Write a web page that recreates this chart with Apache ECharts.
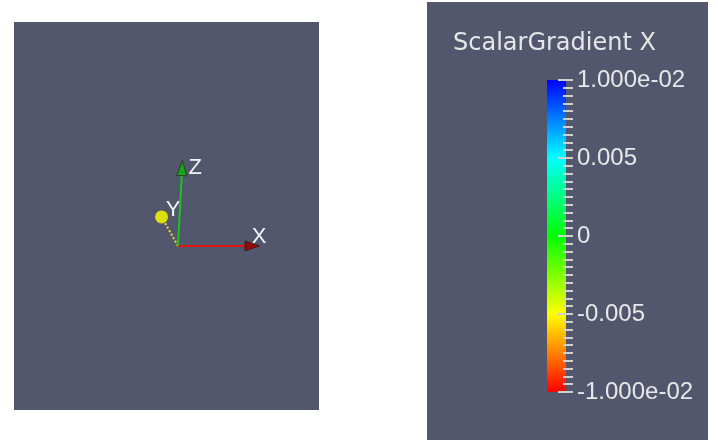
<!DOCTYPE html>
<html>
<head>
<meta charset="utf-8">
<script src="https://cdn.jsdelivr.net/npm/echarts@6/dist/echarts.min.js"></script>
<style>
  html, body { margin: 0; padding: 0; background: #ffffff; }
  #chart { width: 718px; height: 440px; }
</style>
</head>
<body>
<div id="chart"></div>
<script>
// colour legend
var legendTitle = 'ScalarGradient X';
var valueRange = [-0.01, 0.01];
var tickValues = [-0.01, -0.005, 0, 0.005, 0.01];
var tickLabels = ['-1.000e-02', '-0.005', '0', '0.005', '1.000e-02'];
var colorValues = [-0.01, -0.005, 0, 0.005, 0.01];
var colorList = ['#ff0000', '#ffff00', '#00ff00', '#00ffff', '#0000ff'];

// orientation triad (unit = length of the X arrow)
var triadNames = ['X', 'Y', 'Z'];
var triadTipX = [1.0, -0.2, 0.055];
var triadTipY = [0, 0.354, 1.04];
var triadLabelX = [0.99, -0.06, 0.21];
var triadLabelY = [0.11, 0.44, 0.95];

var bg = '#52576e';
var lineColors = ['#e01515', '#e2e21a', '#1ec41e'];
var headColors = ['#8e0d0d', '#dede0a', '#14a814'];

var chart = echarts.init(document.getElementById('chart'));

function gradientStops() {
	var span = valueRange[1] - valueRange[0];
	var stops = [];
	for (var i = colorValues.length - 1; i >= 0; i--) {
		stops.push({ offset: (valueRange[1] - colorValues[i]) / span, color: colorList[i] });
	}
	return stops;
}

// bar sits 26px left of the axis line
function renderBar(params, api) {
	var top = api.coord([0, api.value(2)]);
	var bottom = api.coord([0, api.value(1)]);
	return {
		type: 'rect',
		shape: { x: params.coordSys.x - 26, y: top[1], width: 19, height: bottom[1] - top[1] },
		style: { fill: new echarts.graphic.LinearGradient(0, 0, 0, 1, gradientStops()) }
	};
}

function renderTriad(params, api) {
	var i = api.value(4);
	var p0 = api.coord([0, 0]);
	var p1 = api.coord([api.value(0), api.value(1)]);
	var lp = api.coord([api.value(2), api.value(3)]);
	var dx = p1[0] - p0[0], dy = p1[1] - p0[1];
	var len = Math.sqrt(dx * dx + dy * dy);
	var ux = dx / len, uy = dy / len;
	var children = [];
	if (triadNames[i] === 'Y') {
		children.push({
			type: 'line',
			shape: { x1: p0[0], y1: p0[1], x2: p1[0], y2: p1[1] },
			style: { stroke: lineColors[i], lineWidth: 2, lineDash: [2, 2] }
		});
		children.push({
			type: 'circle',
			shape: { cx: p1[0], cy: p1[1], r: 6.5 },
			style: { fill: headColors[i] }
		});
	} else {
		var hl = 15, hw = 5;
		var bx = p1[0] - ux * hl, by = p1[1] - uy * hl;
		children.push({
			type: 'line',
			shape: { x1: p0[0], y1: p0[1], x2: bx, y2: by },
			style: { stroke: lineColors[i], lineWidth: 2 }
		});
		children.push({
			type: 'polygon',
			shape: { points: [[p1[0], p1[1]], [bx - uy * hw, by + ux * hw], [bx + uy * hw, by - ux * hw]] },
			style: { fill: headColors[i], stroke: '#2a1010', lineWidth: 0.6 }
		});
	}
	children.push({
		type: 'text',
		style: {
			x: lp[0], y: lp[1], text: triadNames[i],
			fill: '#f4f4f4', font: '22px "Liberation Sans"',
			align: 'center', verticalAlign: 'middle'
		}
	});
	return { type: 'group', children: children };
}

var triadData = triadNames.map(function (n, i) {
	return [triadTipX[i], triadTipY[i], triadLabelX[i], triadLabelY[i], i];
});

var option = {
	animation: false,
	backgroundColor: '#ffffff',
	title: {
		text: legendTitle,
		left: 448,
		top: 27,
		textStyle: { fontFamily: 'DejaVu Sans', fontSize: 24, fontWeight: 'normal', color: '#e6e6e6' }
	},
	graphic: {
		elements: [{
			type: 'rect', z: -10,
			shape: { x: 427, y: 2, width: 281, height: 438 },
			style: { fill: bg }
		}]
	},
	grid: [{
		left: 14, top: 22, width: 305, height: 388,
		show: true, backgroundColor: bg, borderWidth: 0
	}, {
		left: 573, top: 80, width: 10, height: 312
	}],
	xAxis: [
		{ gridIndex: 0, type: 'value', min: -2, max: 1.72, show: false },
		{ gridIndex: 1, type: 'value', min: 0, max: 1, show: false }
	],
	yAxis: [
		{ gridIndex: 0, type: 'value', min: -2, max: 2.73, show: false },
		{
			gridIndex: 1, type: 'value', position: 'left', z: 5,
			min: valueRange[0], max: valueRange[1], interval: 0.005,
			axisLine: { show: false },
			splitLine: { show: false },
			axisTick: { show: true, length: 15, lineStyle: { color: '#cfcfcf', width: 2 } },
			minorTick: { show: true, splitNumber: 10, length: 10, lineStyle: { color: '#cfcfcf', width: 2 } },
			axisLabel: {
				inside: true,
				margin: 4, color: '#e8e8e8', fontSize: 24, fontFamily: 'Liberation Sans',
				padding: [0, 0, 7, 0],
				showMinLabel: true, showMaxLabel: true,
				formatter: function (v) {
					for (var i = 0; i < tickValues.length; i++) {
						if (Math.abs(v - tickValues[i]) < 1e-9) return tickLabels[i];
					}
					return '';
				}
			}
		}
	],
	series: [{
		type: 'custom',
		xAxisIndex: 1, yAxisIndex: 1,
		z: 1,
		renderItem: renderBar,
		clip: false,
		data: [[0, valueRange[0], valueRange[1]]]
	}, {
		type: 'custom',
		xAxisIndex: 0, yAxisIndex: 0,
		renderItem: renderTriad,
		clip: false,
		data: triadData
	}]
};

chart.setOption(option);
</script>
</body>
</html>
